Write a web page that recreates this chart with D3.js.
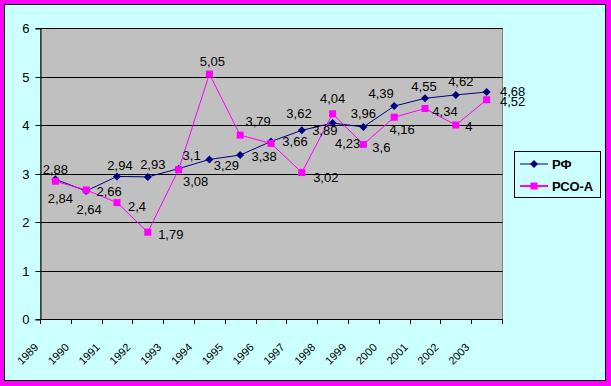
<!DOCTYPE html>
<html>
<head>
<meta charset="utf-8">
<script src="https://cdn.jsdelivr.net/npm/d3@7"></script>
<style>
  html, body { margin: 0; padding: 0; background: #ff00ff; }
  svg { display: block; }
  text { font-family: 'Liberation Sans', Arial, sans-serif; }
</style>
</head>
<body>
<script>
const years = ['1989', '1990', '1991', '1992', '1993', '1994', '1995', '1996',
  '1997', '1998', '1999', '2000', '2001', '2002', '2003']
const rfValues = [2.88, 2.64, 2.94, 2.93, 3.1, 3.29, 3.38, 3.66, 3.89, 4.04,
  3.96, 4.39, 4.55, 4.62, 4.68]
const rsoValues = [2.84, 2.66, 2.4, 1.79, 3.08, 5.05, 3.79, 3.62, 3.02, 4.23,
  3.6, 4.16, 4.34, 4, 4.52]
const yTicks = [0, 1, 2, 3, 4, 5, 6]
const seriesNames = ['РФ', 'РСО-А']

// label offsets (dx, dy) from each point, as the labels sit in the original
const rfLabelOffsets = [[0, -5], [3, 23], [3, -6], [5, -8], [13, -9], [17, 11],
  [24, 6], [24, 5], [23, 5], [0, -20], [0, -9], [-13, -8], [-1, -7], [5, -9], [26, 4]]
const rsoLabelOffsets = [[5, 22], [23, 6], [20, 8], [23, 7], [17, 16], [3, -8],
  [18, -9], [28, -25], [24, 9], [15, 34], [18, 8], [8, 17], [20, 7], [13, 6], [26, 6]]

const outerWidth = 611
const outerHeight = 386
const plot = { left: 40, top: 28, right: 502, bottom: 319 }

// colors
const bgCyan = '#ccffff'
const plotGray = '#c0c0c0'
const navy = '#000080'
const magenta = '#ff00ff'

const svg = d3.select('body')
  .append('svg')
  .attr('width', outerWidth)
  .attr('height', outerHeight)

// chart area
svg.append('rect')
  .attr('x', 4.5)
  .attr('y', 4.5)
  .attr('width', 601)
  .attr('height', 376)
  .style('fill', bgCyan)
  .style('stroke', '#000')
  .style('stroke-width', 1)

const xScale = d3.scaleBand()
  .domain(years)
  .range([plot.left, plot.right])
  .padding(0)

const yScale = d3.scaleLinear()
  .domain([0, 6])
  .range([plot.bottom, plot.top])

// plot background
svg.append('rect')
  .attr('x', plot.left + 0.5)
  .attr('y', plot.top + 0.5)
  .attr('width', plot.right - plot.left)
  .attr('height', plot.bottom - plot.top)
  .style('fill', plotGray)
  .style('stroke', '#808080')
  .style('stroke-width', 1)

// gridlines
svg.append('g')
  .selectAll('line')
  .data(yTicks.filter(d => d > 0))
  .enter()
  .append('line')
  .attr('x1', plot.left)
  .attr('x2', plot.right + 0.5)
  .attr('y1', d => Math.round(yScale(d)) + 0.5)
  .attr('y2', d => Math.round(yScale(d)) + 0.5)
  .style('stroke', '#000')
  .style('stroke-width', 1)

// y axis
const yAxis = d3.axisLeft(yScale)
  .tickValues(yTicks)
  .tickSize(5)
  .tickPadding(6)
  .tickFormat(d => d)

const yAxisG = svg.append('g')
  .attr('transform', `translate(${plot.left + 0.5},0.5)`)
  .call(yAxis)
yAxisG.select('.domain').style('stroke', '#000')
yAxisG.selectAll('.tick line').style('stroke', '#000')
yAxisG.selectAll('.tick text')
  .style('font-size', '13px')
  .style('font-family', "'Liberation Sans', Arial, sans-serif")
  .style('fill', '#000')
yAxisG.selectAll('.tick')
  .attr('transform', d => `translate(0,${Math.round(yScale(d))})`)

// x axis: ticks at the band edges
const edges = years.map(y => xScale(y)).concat([plot.right])
const xAxisG = svg.append('g')
xAxisG.append('line')
  .attr('x1', plot.left)
  .attr('x2', plot.right + 1)
  .attr('y1', plot.bottom + 0.5)
  .attr('y2', plot.bottom + 0.5)
  .style('stroke', '#000')
xAxisG.selectAll('.xtick')
  .data(edges)
  .enter()
  .append('line')
  .attr('class', 'xtick')
  .attr('x1', d => Math.round(d) + 0.5)
  .attr('x2', d => Math.round(d) + 0.5)
  .attr('y1', plot.bottom)
  .attr('y2', plot.bottom + 5)
  .style('stroke', '#000')

xAxisG.selectAll('.xlabel')
  .data(years)
  .enter()
  .append('text')
  .attr('class', 'xlabel')
  .attr('transform', d => `translate(${xScale(d) - 1},${plot.bottom + 29}) rotate(-45)`)
  .style('text-anchor', 'end')
  .style('font-size', '11px')
  .style('fill', '#000')
  .text(d => d)

const cx = d => xScale(d) + xScale.bandwidth() / 2

const series = [
  { name: seriesNames[0], values: rfValues, offsets: rfLabelOffsets, color: navy, marker: 'diamond' },
  { name: seriesNames[1], values: rsoValues, offsets: rsoLabelOffsets, color: magenta, marker: 'square' }
]

const diamondPath = 'M0,-4L4,0L0,4L-4,0Z'

const line = d3.line()
  .x(d => cx(d.year))
  .y(d => yScale(d.value))

series.forEach(s => {
  const pts = years.map((year, i) => ({ year, value: s.values[i], offset: s.offsets[i] }))
  s.pts = pts
  const g = svg.append('g')
  g.append('path')
    .datum(pts)
    .attr('d', line)
    .style('fill', 'none')
    .style('stroke', s.color)
    .style('stroke-width', 1)

  if (s.marker === 'diamond') {
    g.selectAll('.marker')
      .data(pts)
      .enter()
      .append('path')
      .attr('class', 'marker')
      .attr('d', diamondPath)
      .attr('transform', d => `translate(${cx(d.year)},${yScale(d.value)})`)
      .style('fill', s.color)
  } else {
    g.selectAll('.marker')
      .data(pts)
      .enter()
      .append('rect')
      .attr('class', 'marker')
      .attr('x', d => cx(d.year) - 3.5)
      .attr('y', d => yScale(d.value) - 3.5)
      .attr('width', 7)
      .attr('height', 7)
      .style('fill', s.color)
  }
})

// data labels
series.forEach(s => {
  svg.append('g')
    .selectAll('text')
    .data(s.pts)
    .enter()
    .append('text')
    .attr('x', d => cx(d.year) + d.offset[0])
    .attr('y', d => yScale(d.value) + d.offset[1])
    .style('text-anchor', 'middle')
    .style('font-size', '13px')
    .style('fill', '#000')
    .text(d => String(d.value).replace('.', ','))
})

// legend
const legend = svg.append('g')
legend.append('rect')
  .attr('x', 514.5)
  .attr('y', 151.5)
  .attr('width', 86)
  .attr('height', 46)
  .style('fill', bgCyan)
  .style('stroke', '#000')

const legendRows = legend.selectAll('.row')
  .data(series)
  .enter()
  .append('g')
  .attr('class', 'row')
  .attr('transform', (d, i) => `translate(0,${164 + i * 22})`)

legendRows.append('line')
  .attr('x1', 520)
  .attr('x2', 548)
  .attr('y1', 0)
  .attr('y2', 0)
  .style('stroke', d => d.color)
  .style('stroke-width', (d, i) => i === 0 ? 1 : 2)

legendRows.filter(d => d.marker === 'diamond')
  .append('path')
  .attr('d', diamondPath)
  .attr('transform', 'translate(534,0)')
  .style('fill', d => d.color)

legendRows.filter(d => d.marker === 'square')
  .append('rect')
  .attr('x', 530.5)
  .attr('y', -3.5)
  .attr('width', 7)
  .attr('height', 7)
  .style('fill', d => d.color)

legendRows.append('text')
  .attr('x', 552)
  .attr('y', 5)
  .style('font-size', '13px')
  .style('font-weight', 'bold')
  .style('fill', '#000')
  .text(d => d.name)
</script>
</body>
</html>
